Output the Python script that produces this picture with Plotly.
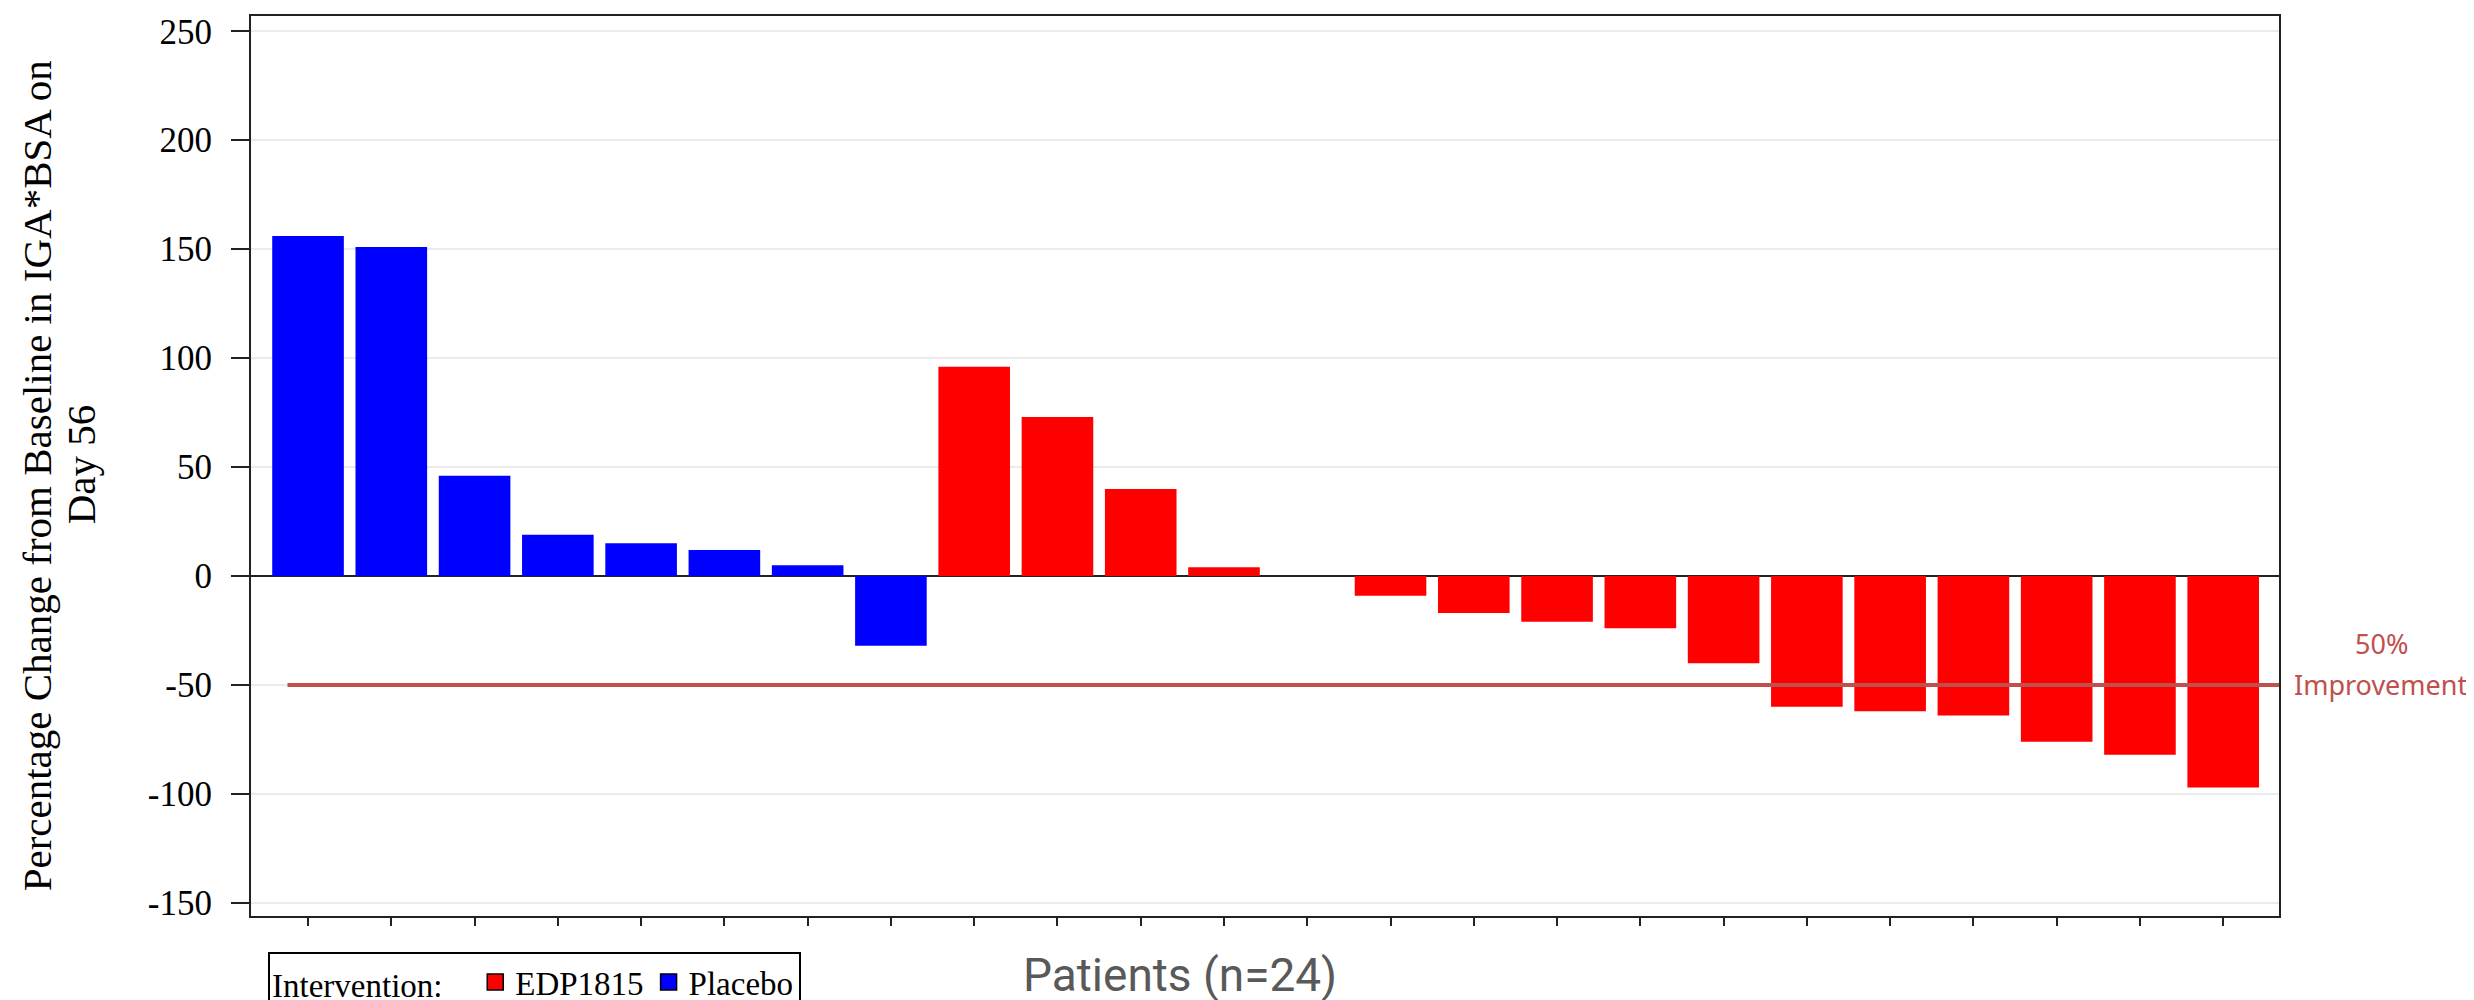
import plotly.graph_objects as go

# ---- data ----
placebo_patients = [1, 2, 3, 4, 5, 6, 7, 8]
placebo_change = [156, 151, 46, 19, 15, 12, 5, -32]
edp_patients = [9, 10, 11, 12, 13, 14, 15, 16, 17, 18, 19, 20, 21, 22, 23, 24]
edp_change = [96, 73, 40, 4, 0, -9, -17, -21, -24, -40, -60, -62, -64, -76, -82, -97]
all_patients = placebo_patients + edp_patients
y_ticks = [-150, -100, -50, 0, 50, 100, 150, 200, 250]
y_tick_text = ["-150", "-100", "-50", "0", "50", "100", "150", "200", "250"]
improvement_threshold = -50
y_title_lines = ["Percentage Change from Baseline in IGA*BSA on", "Day 56"]
threshold_label_lines = ["50%", "Improvement"]

BLUE = "#0000FF"
RED = "#FF0000"
SERIF = "Liberation Serif"
THRESH_COLOR = "#C0504D"

fig = go.Figure()
fig.add_trace(go.Bar(x=placebo_patients, y=placebo_change, name="Placebo",
                     marker=dict(color=BLUE, line=dict(width=0)), width=0.86,
                     showlegend=False))
fig.add_trace(go.Bar(x=edp_patients, y=edp_change, name="EDP1815",
                     marker=dict(color=RED, line=dict(width=0)), width=0.86,
                     showlegend=False))
# legend entries (outlined squares as in the reference legend)
for nm, col in [("EDP1815", RED), ("Placebo", BLUE)]:
    fig.add_trace(go.Scatter(x=[None], y=[None], mode="markers", name=nm,
                             marker=dict(symbol="square", size=16, color=col,
                                         line=dict(color="black", width=1.5))))

fig.add_shape(type="line", xref="x domain", yref="y", x0=0.018, x1=1,
              y0=improvement_threshold, y1=improvement_threshold,
              line=dict(color=THRESH_COLOR, width=4), layer="above")

# threshold label, two lines
for txt, dy in zip(threshold_label_lines, [19.0, 0.2]):
    fig.add_annotation(xref="paper", yref="y", x=1.0505, y=improvement_threshold + dy,
                       text=txt, showarrow=False,
                       font=dict(family="Noto Sans", size=27, color=THRESH_COLOR),
                       xanchor="center", yanchor="middle")

# y-axis title, two lines
for txt, xp, yp in zip(y_title_lines, [-0.1058, -0.0838], [0.489, 0.502]):
    fig.add_annotation(xref="paper", yref="paper", x=xp, y=yp, text=txt,
                       textangle=-90, showarrow=False,
                       font=dict(family=SERIF, size=41, color="black"),
                       xanchor="center", yanchor="middle")

fig.add_annotation(xref="paper", yref="paper", x=0.458, y=-0.065,
                   text="Patients (n=24)", showarrow=False,
                   font=dict(family="Roboto", size=46, color="#595959"),
                   xanchor="center", yanchor="middle")

fig.update_layout(
    width=2474, height=1000,
    margin=dict(l=243, r=203, t=8, b=92, autoexpand=False),
    paper_bgcolor="white", plot_bgcolor="white",
    barmode="overlay",
    showlegend=True,
    legend=dict(orientation="h", x=0.0084, y=-0.04, xanchor="left", yanchor="top",
                bordercolor="black", borderwidth=2, bgcolor="white",
                font=dict(family=SERIF, size=33, color="black"),
                title=dict(text="Intervention:   ", side="left",
                           font=dict(family=SERIF, size=33, color="black")),
                itemwidth=30, traceorder="normal"),
    xaxis=dict(range=[0.315, 24.67], tickvals=all_patients, showticklabels=False,
               ticks="outside", ticklen=8, tickwidth=2, tickcolor="#222",
               showline=True, mirror=True, linecolor="#222", linewidth=2,
               showgrid=False, zeroline=False),
    yaxis=dict(range=[-156, 257], tickvals=y_ticks, ticktext=y_tick_text,
               ticks="outside", ticklen=18, tickwidth=2, tickcolor="#222",
               ticklabelstandoff=12,
               tickfont=dict(family=SERIF, size=35, color="black"),
               showline=True, mirror=True, linecolor="#222", linewidth=2,
               showgrid=True, gridcolor="#EBEBEB", gridwidth=2,
               zeroline=True, zerolinecolor="#222", zerolinewidth=2),
)

fig.write_html("out.html")
